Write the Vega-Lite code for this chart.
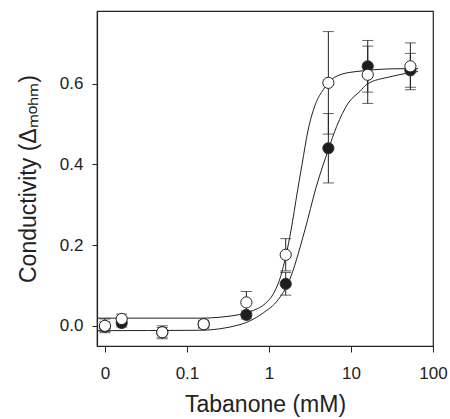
{
  "$schema": "https://vega.github.io/schema/vega-lite/v6.json",
  "width": 336,
  "height": 335,
  "autosize": {"type": "none"},
  "padding": {"left": 97, "top": 11, "right": 17, "bottom": 73},
  "background": "white",
  "config": {
    "font": "Liberation Sans",
    "view": {"stroke": "#222", "strokeWidth": 1.2},
    "axis": {
      "grid": false,
      "domainColor": "#222",
      "domainWidth": 1.2,
      "tickColor": "#222",
      "tickWidth": 1,
      "labelColor": "#222",
      "labelFont": "Liberation Sans",
      "labelFontSize": 17,
      "titleFont": "Liberation Sans",
      "titleFontSize": 23,
      "titleFontWeight": "normal",
      "titleColor": "#222"
    }
  },
  "datasets": {
    "curves": [
      {"series": "open", "x": 0.008, "y": 0.019},
      {"series": "open", "x": 0.144, "y": 0.019},
      {"series": "open", "x": 0.443, "y": 0.028},
      {"series": "open", "x": 0.644, "y": 0.038},
      {"series": "open", "x": 0.9, "y": 0.055},
      {"series": "open", "x": 1.128, "y": 0.079},
      {"series": "open", "x": 1.4, "y": 0.125},
      {"series": "open", "x": 1.611, "y": 0.174},
      {"series": "open", "x": 1.85, "y": 0.235},
      {"series": "open", "x": 2.239, "y": 0.337},
      {"series": "open", "x": 2.53, "y": 0.4},
      {"series": "open", "x": 3.0, "y": 0.485},
      {"series": "open", "x": 3.7, "y": 0.55},
      {"series": "open", "x": 4.592, "y": 0.585},
      {"series": "open", "x": 5.284, "y": 0.602},
      {"series": "open", "x": 7.34, "y": 0.622},
      {"series": "open", "x": 12.88, "y": 0.631},
      {"series": "open", "x": 39.6, "y": 0.637},
      {"series": "open", "x": 65.6, "y": 0.637},
      {"series": "filled", "x": 0.008, "y": -0.012},
      {"series": "filled", "x": 0.144, "y": -0.011},
      {"series": "filled", "x": 0.443, "y": 0.003},
      {"series": "filled", "x": 0.851, "y": 0.032},
      {"series": "filled", "x": 1.298, "y": 0.065},
      {"series": "filled", "x": 1.719, "y": 0.106},
      {"series": "filled", "x": 2.748, "y": 0.238},
      {"series": "filled", "x": 3.742, "y": 0.342},
      {"series": "filled", "x": 5.284, "y": 0.436},
      {"series": "filled", "x": 6.69, "y": 0.494},
      {"series": "filled", "x": 9.27, "y": 0.552},
      {"series": "filled", "x": 12.88, "y": 0.581},
      {"series": "filled", "x": 15.53, "y": 0.598},
      {"series": "filled", "x": 29.9, "y": 0.617},
      {"series": "filled", "x": 52.5, "y": 0.627},
      {"series": "filled", "x": 65.6, "y": 0.63}
    ],
    "points": [
      {"series": "filled", "x": 0.01, "y": -0.002, "err": 0.012},
      {"series": "filled", "x": 0.016, "y": 0.007, "err": 0.01},
      {"series": "filled", "x": 0.05, "y": -0.016, "err": 0.012},
      {"series": "filled", "x": 0.16, "y": 0.004, "err": 0.008},
      {"series": "filled", "x": 0.53, "y": 0.027, "err": 0.01},
      {"series": "filled", "x": 1.6, "y": 0.104, "err": 0.028},
      {"series": "filled", "x": 5.3, "y": 0.44, "err": 0.086},
      {"series": "filled", "x": 16, "y": 0.643, "err": 0.064},
      {"series": "filled", "x": 53, "y": 0.633, "err": 0.042},
      {"series": "open", "x": 0.01, "y": 0.0, "err": 0.017},
      {"series": "open", "x": 0.016, "y": 0.017, "err": 0.012},
      {"series": "open", "x": 0.05, "y": -0.016, "err": 0.016},
      {"series": "open", "x": 0.16, "y": 0.004, "err": 0.01},
      {"series": "open", "x": 0.53, "y": 0.058, "err": 0.027},
      {"series": "open", "x": 1.6, "y": 0.176, "err": 0.04},
      {"series": "open", "x": 5.3, "y": 0.602, "err": 0.127},
      {"series": "open", "x": 16, "y": 0.622, "err": 0.071},
      {"series": "open", "x": 53, "y": 0.643, "err": 0.058}
    ]
  },
  "encoding": {
    "x": {
      "field": "x",
      "type": "quantitative",
      "scale": {"type": "log", "domain": [0.008, 100], "nice": false, "zero": false},
      "axis": {
        "title": "Tabanone (mM)",
        "values": [0.01, 0.1, 1, 10, 100],
        "labelExpr": "datum.value < 0.05 ? '0' : format(datum.value, '~g')",
        "tickSize": 6,
        "labelPadding": 13,
        "titlePadding": 12,
        "labelFlush": false,
        "labelOverlap": false
      }
    },
    "y": {
      "field": "y",
      "type": "quantitative",
      "scale": {"domain": [-0.05, 0.78], "nice": false, "zero": false},
      "axis": {
        "title": "Conductivity (Δₘₒₕₘ)",
        "values": [0, 0.2, 0.4, 0.6],
        "format": ".1f",
        "tickSize": 5,
        "labelPadding": 9,
        "titlePadding": 19
      }
    }
  },
  "layer": [
    {
      "data": {"name": "curves"},
      "mark": {"type": "line", "color": "#222", "strokeWidth": 1, "interpolate": "monotone"},
      "encoding": {"detail": {"field": "series"}}
    },
    {
      "data": {"name": "points"},
      "mark": {
        "type": "errorbar",
        "ticks": {"size": 11, "color": "#222", "thickness": 1},
        "rule": {"color": "#222", "strokeWidth": 1}
      },
      "encoding": {"yError": {"field": "err"}, "detail": {"field": "series"}}
    },
    {
      "data": {"name": "points"},
      "transform": [{"filter": "datum.series === 'filled'"}],
      "mark": {"type": "point", "shape": "circle", "filled": true, "size": 125, "fill": "#1e1e1e", "stroke": "#333", "strokeWidth": 1, "opacity": 1}
    },
    {
      "data": {"name": "points"},
      "transform": [{"filter": "datum.series === 'open'"}],
      "mark": {"type": "point", "shape": "circle", "filled": false, "size": 125, "fill": "white", "fillOpacity": 1, "stroke": "#222", "strokeWidth": 1, "opacity": 1}
    }
  ]
}
